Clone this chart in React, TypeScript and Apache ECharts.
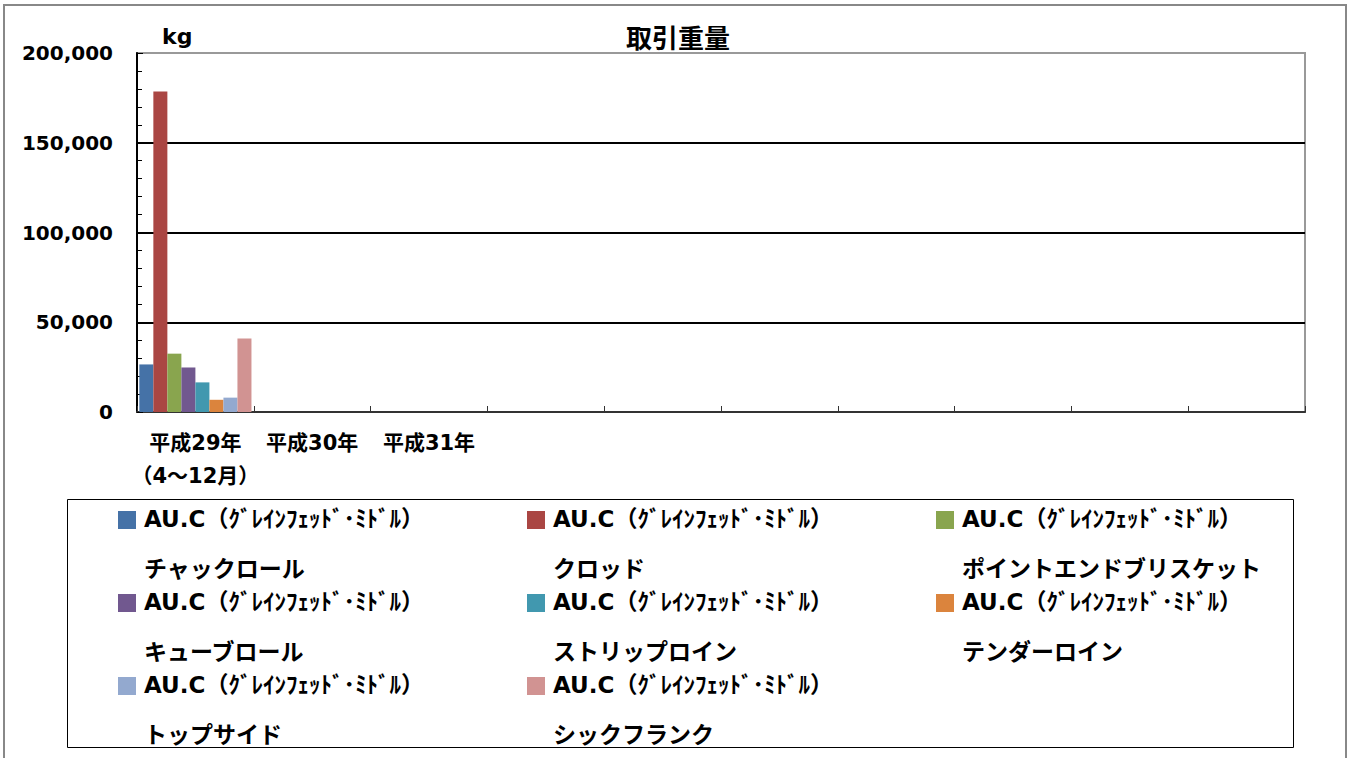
import React, { useEffect, useRef } from "react";
import * as echarts from "echarts";

const titleText = "取引重量";
const unitText = "kg";
const categories = [
  "平成29年\n（4～12月）",
  "平成30年",
  "平成31年",
  "",
  "",
  "",
  "",
  "",
  "",
  "",
];
const seriesPrefix = "AU.C（ｸﾞﾚｲﾝﾌｪｯﾄﾞ･ﾐﾄﾞﾙ）";
const cuts = [
  "チャックロール",
  "クロッド",
  "ポイントエンドブリスケット",
  "キューブロール",
  "ストリップロイン",
  "テンダーロイン",
  "トップサイド",
  "シックフランク",
];
const values = [26500, 178500, 32500, 24800, 16500, 6800, 8000, 41000];
const colors = [
  "#4572A7",
  "#AA4643",
  "#89A54E",
  "#71588F",
  "#4198AF",
  "#DB843D",
  "#93A9CF",
  "#D19392",
];
const yMin = 0;
const yMax = 200000;
const yInterval = 50000;

const LATIN = "'DejaVu Sans', 'Noto Sans CJK JP', sans-serif";
const CJK = "'Noto Sans CJK JP', 'DejaVu Sans', sans-serif";

export default function App() {
  const ref = useRef<HTMLDivElement>(null);
  useEffect(() => {
    if (!ref.current) return;
    const chart = echarts.init(ref.current, undefined, { renderer: "svg" });
    const names = cuts.map((c) => `${seriesPrefix}\n\n${c}`);
    const series = names.map((n, i) => ({
      name: n,
      type: "bar",
      data: [values[i]],
      itemStyle: { color: colors[i] },
      barGap: "0%",
      barCategoryGap: "4%",
    }));
    chart.setOption({
      animation: false,
      backgroundColor: "#ffffff",
      title: {
        text: titleText,
        left: 673,
        textAlign: "center",
        top: 18,
        textStyle: { fontFamily: CJK, fontWeight: "bold", fontSize: 26, color: "#000" },
      },
      grid: {
        left: 137,
        top: 53,
        right: 49,
        bottom: 346,
        show: true,
        borderColor: "#999",
        borderWidth: 2,
      },
      legend: {
        left: 118,
        top: 506,
        width: 1230,
        padding: 0,
        itemGap: 8,
        itemWidth: 21,
        itemHeight: 75,
        icon: "path://M0,0h0.01v0.01h-0.01z M0,5h18v18h-18z M20.99,74.99h0.01v0.01h-0.01z",
        selectedMode: false,
        textStyle: {
          fontFamily: LATIN,
          fontWeight: "bold",
          fontSize: 23,
          lineHeight: 25,
          color: "#000",
          width: 375,
        },
        data: names,
      },
      xAxis: {
        type: "category",
        data: categories,
        axisLine: { lineStyle: { color: "#333", width: 2 } },
        axisTick: { show: true, inside: true, length: 6, lineStyle: { color: "#333" } },
        axisLabel: {
          interval: 0,
          margin: 14,
          fontFamily: LATIN,
          fontWeight: "bold",
          fontSize: 21,
          lineHeight: 33,
          color: "#000",
        },
        splitLine: { show: false },
      },
      yAxis: {
        type: "value",
        min: yMin,
        max: yMax,
        interval: yInterval,
        name: unitText,
        nameLocation: "end",
        nameGap: 6,
        nameTextStyle: {
          fontFamily: LATIN,
          fontWeight: "bold",
          fontSize: 22,
          color: "#000",
          align: "left",
          padding: [0, 0, 0, 25],
        },
        axisLine: { show: true, lineStyle: { color: "#000", width: 2 } },
        axisTick: { show: true, inside: true, length: 6, lineStyle: { color: "#000" } },
        minorTick: { show: true, splitNumber: 5, length: 5, lineStyle: { color: "#000" } },
        axisLabel: {
          margin: 24,
          fontFamily: LATIN,
          fontWeight: "bold",
          fontSize: 20,
          color: "#000",
          padding: [0, 0, 5, 0],
          formatter: (v: number) => v.toLocaleString("en-US"),
        },
        splitLine: {
          show: true,
          showMinLine: false,
          showMaxLine: false,
          lineStyle: { color: "#000", width: 2 },
        },
      },
      graphic: [
        {
          type: "rect",
          shape: { x: 4, y: 5, width: 1342, height: 800 },
          style: { fill: "none", stroke: "#888", lineWidth: 2 },
          silent: true,
          z: -1,
        },
        {
          type: "rect",
          shape: { x: 67.5, y: 499.5, width: 1226, height: 248 },
          style: { fill: "none", stroke: "#000", lineWidth: 1 },
          silent: true,
          z: -1,
        },
      ],
      series,
    });
    return () => chart.dispose();
  }, []);
  return (
    <div
      ref={ref}
      style={{ position: "fixed", left: 0, top: 0, width: 1354, height: 758 }}
    />
  );
}
